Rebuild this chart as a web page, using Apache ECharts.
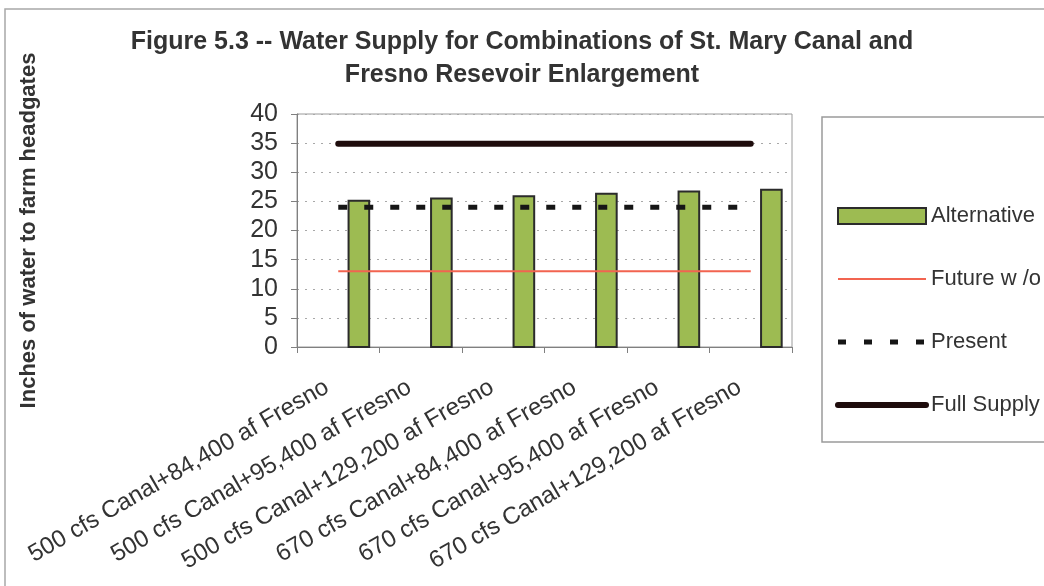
<!DOCTYPE html>
<html>
<head>
<meta charset="utf-8">
<script src="https://cdn.jsdelivr.net/npm/echarts@6/dist/echarts.min.js"></script>
<style>
  html, body { margin: 0; padding: 0; background: #ffffff; }
  #chart { width: 1044px; height: 586px; }
</style>
</head>
<body>
<div id="chart"></div>
<script>
// Combinations of St. Mary canal capacity and Fresno reservoir storage
const categories = [
  '500 cfs Canal+84,400 af Fresno',
  '500 cfs Canal+95,400 af Fresno',
  '500 cfs Canal+129,200 af Fresno',
  '670 cfs Canal+84,400 af Fresno',
  '670 cfs Canal+95,400 af Fresno',
  '670 cfs Canal+129,200 af Fresno'
];

// Inches of water delivered to farm headgates
const alternative = [25.1, 25.5, 25.9, 26.3, 26.7, 27.0];
const futureWithout = [13, 13, 13, 13, 13, 13];
const present = [24, 24, 24, 24, 24, 24];
const fullSupply = [34.9, 34.9, 34.9, 34.9, 34.9, 34.9];

const yTicks = { min: 0, max: 40, interval: 5 };

const FONT = '"Liberation Sans", Arial, sans-serif';
const TEXT = '#333333';

const chart = echarts.init(document.getElementById('chart'), null, { renderer: 'canvas' });

// Bars sit one bar-width right of the category centre, as in the original workbook layout
function renderAlternative(params, api) {
  const idx = api.value(0);
  const top = api.coord([idx, api.value(1)]);
  const base = api.coord([idx, 0]);
  const band = api.size([1, 0])[0];
  const w = band * 0.25;
  const cx = top[0] + w;
  return {
    type: 'rect',
    shape: { x: cx - w / 2, y: top[1], width: w, height: base[1] - top[1] },
    style: api.style()
  };
}

const hiddenSymbol = { opacity: 0 };

const option = {
  backgroundColor: '#ffffff',
  animation: false,
  textStyle: { fontFamily: FONT },
  title: {
    text: 'Figure 5.3 -- Water Supply for Combinations of St. Mary Canal and\nFresno Resevoir Enlargement',
    left: 'center',
    top: 26,
    padding: [0, 0, 0, 14],
    textStyle: { fontFamily: FONT, fontSize: 25, fontWeight: 'bold', color: TEXT, lineHeight: 33, align: 'center' }
  },
  graphic: [
    { type: 'rect', silent: true, z: -1,
      shape: { x: 5, y: 9, width: 1060, height: 600 },
      style: { fill: 'none', stroke: '#a8a8a8', lineWidth: 1.5 } },
    { type: 'rect', silent: true, z: -1,
      shape: { x: 822, y: 117, width: 260, height: 325 },
      style: { fill: 'none', stroke: '#9a9a9a', lineWidth: 1.5 } }
  ],
  legend: {
    orient: 'vertical',
    left: 835,
    top: 204,
    padding: 0,
    itemWidth: 88,
    itemHeight: 16,
    itemGap: 39,
    textStyle: { fontFamily: FONT, fontSize: 22, color: TEXT, lineHeight: 24 },
    data: [
      { name: 'Alternative', icon: 'rect' },
      { name: 'Future w /o', itemStyle: hiddenSymbol, lineStyle: { width: 2 } },
      { name: 'Present', itemStyle: hiddenSymbol, lineStyle: { width: 5, type: [8, 18] } },
      { name: 'Full Supply', itemStyle: hiddenSymbol, lineStyle: { width: 6, cap: 'round' } }
    ]
  },
  grid: {
    left: 297, right: 252, top: 114, bottom: 239,
    show: true, borderColor: '#9a9a9a', borderWidth: 1
  },
  xAxis: {
    type: 'category',
    data: categories,
    boundaryGap: true,
    axisLine: { lineStyle: { color: '#808080', width: 1 } },
    axisTick: { show: true, length: 6, lineStyle: { color: '#808080' } },
    axisLabel: {
      rotate: 30,
      interval: 0,
      margin: 32,
      padding: [0, 13, 0, 0],
      fontFamily: FONT,
      fontSize: 24,
      color: TEXT
    },
    splitLine: { show: false }
  },
  yAxis: {
    type: 'value',
    min: yTicks.min,
    max: yTicks.max,
    interval: yTicks.interval,
    name: 'Inches of water to farm headgates',
    nameLocation: 'middle',
    nameGap: 257,
    nameRotate: 90,
    nameTextStyle: { fontFamily: FONT, fontSize: 22, fontWeight: 'bold', color: TEXT },
    axisLine: { show: true, lineStyle: { color: '#808080', width: 1 } },
    axisTick: { show: true, length: 6, lineStyle: { color: '#808080' } },
    axisLabel: { margin: 19, fontFamily: FONT, fontSize: 25, color: TEXT },
    splitLine: { show: true, lineStyle: { color: '#a8a8a8', width: 1, type: [2, 6] } }
  },
  series: [
    {
      name: 'Alternative',
      type: 'custom',
      renderItem: renderAlternative,
      encode: { x: 0, y: 1 },
      data: alternative.map((v, i) => [i, v]),
      itemStyle: { color: '#9dbb52', borderColor: '#2b2b2b', borderWidth: 2 },
      z: 3
    },
    {
      name: 'Future w /o',
      type: 'line',
      data: futureWithout,
      symbol: 'none',
      lineStyle: { color: '#f26450', width: 2 },
      itemStyle: { color: '#f26450' },
      z: 4
    },
    {
      name: 'Present',
      type: 'line',
      data: present,
      symbol: 'none',
      lineStyle: { color: '#161616', width: 5, type: [9, 17] },
      itemStyle: { color: '#161616' },
      z: 4
    },
    {
      name: 'Full Supply',
      type: 'line',
      data: fullSupply,
      symbol: 'none',
      lineStyle: { color: '#1e0c0c', width: 6, cap: 'round' },
      itemStyle: { color: '#1e0c0c' },
      z: 4
    }
  ]
};

chart.setOption(option);
</script>
</body>
</html>
